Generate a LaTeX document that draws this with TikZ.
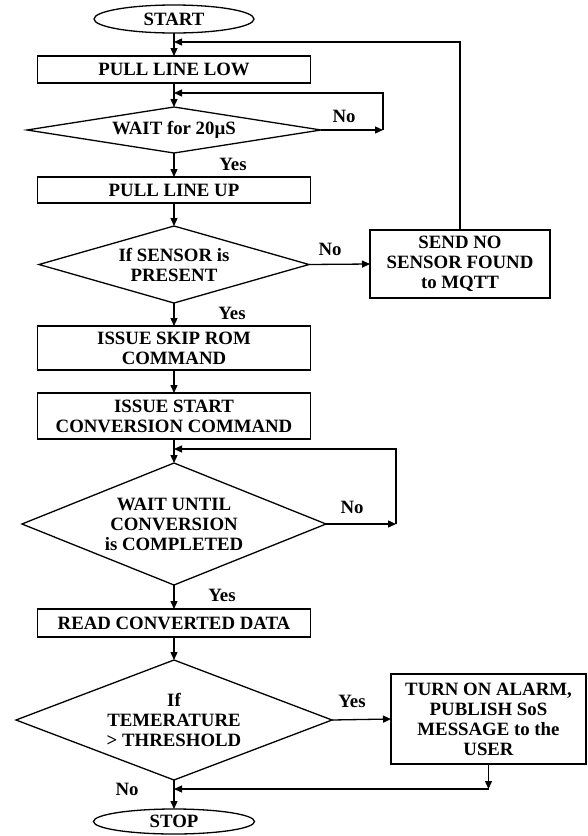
\documentclass[tikz,border=0pt]{standalone}
\usepackage{fontspec}
\setmainfont{Liberation Serif}
\usetikzlibrary{shapes.geometric,arrows.meta}

\begin{document}
\begin{tikzpicture}[x=1pt, y=-1pt,
  every node/.style={font=\fontsize{18.8}{20}\selectfont\bfseries},
  base/.style={draw, line width=1.3pt, inner sep=0pt, outer sep=0pt, align=center},
  terminal/.style={base, ellipse},
  process/.style={base, rectangle},
  decision/.style={base, diamond},
  flow/.style={line width=1.3pt, -{Triangle[length=8pt,width=7pt]}},
  tag/.style={inner sep=0pt}
]
\useasboundingbox (0,0) rectangle (587,836);

% main column
\node[terminal, minimum width=160pt, minimum height=28pt] (start) at (174,19) {START};
\node[process, minimum width=273pt, minimum height=27pt] (low) at (174,69.5) {PULL LINE LOW};
\node[decision, aspect=6.4, minimum width=294pt, minimum height=46pt] (wait) at (174,130) {WAIT for 20µS};
\node[process, minimum width=273pt, minimum height=26pt] (up) at (174,190) {PULL LINE UP};
\node[decision, aspect=3.5, minimum width=270pt, minimum height=77pt] (sensor) at (174,264.5) {If SENSOR is\\PRESENT};
\node[process, minimum width=273pt, minimum height=44pt] (skip) at (174,348) {ISSUE SKIP ROM\\COMMAND};
\node[process, minimum width=273pt, minimum height=46pt] (conv) at (174,416) {ISSUE START\\CONVERSION COMMAND};
\node[decision, aspect=2.49, minimum width=304pt, minimum height=122pt] (until) at (174,524) {WAIT UNTIL\\CONVERSION\\is COMPLETED};
\node[process, minimum width=273pt, minimum height=28pt] (read) at (174,623) {READ CONVERTED DATA};
\node[decision, aspect=2.63, minimum width=316pt, minimum height=120pt] (temp) at (174,720) {If\\TEMERATURE\\> THRESHOLD};
\node[terminal, minimum width=161pt, minimum height=25pt] (stop) at (174,821.5) {STOP};

% side boxes
\node[process, minimum width=180pt, minimum height=68pt] (nosensor) at (460,264) {SEND NO\\SENSOR FOUND\\to MQTT};
\node[process, minimum width=195pt, minimum height=90pt] (alarm) at (488.5,719) {TURN ON ALARM,\\PUBLISH SoS\\MESSAGE to the\\USER};

% junctions and corners
\coordinate (jtop) at (174,42);
\coordinate (jwait) at (174,93);
\coordinate (cwait) at (383,130);
\coordinate (juntil) at (174,449);
\coordinate (cuntil) at (396,524);
\coordinate (calarm) at (488.5,789);
\coordinate (jstop) at (174,789);

% connectors
\draw[flow] (start) -- (low);
\draw[flow] (nosensor.north) |- (jtop);
\draw[flow] (low) -- (wait);
\draw[flow] (wait.east) -- (cwait);
\draw[flow] (cwait) |- (jwait);
\draw[flow] (wait) -- (up);
\draw[flow] (up) -- (sensor);
\draw[flow] (sensor.east) -- (nosensor.west);
\draw[flow] (sensor) -- (skip);
\draw[flow] (skip) -- (conv);
\draw[flow] (conv) -- (until);
\draw[flow] (until.east) -- (cuntil);
\draw[flow] (cuntil) |- (juntil);
\draw[flow] (until) -- (read);
\draw[flow] (read) -- (temp);
\draw[flow] (temp.east) -- (alarm.west);
\draw[flow] (temp) -- (stop);
\draw[flow] (alarm.south) -- (calarm);
\draw[flow] (calarm) -- (jstop);

% branch labels
\node[tag] (no1) at (344,116) {No};
\node[tag] (yes1) at (233,164) {Yes};
\node[tag] (no2) at (330,249) {No};
\node[tag] (yes2) at (232,313) {Yes};
\node[tag] (no3) at (352,507) {No};
\node[tag] (yes3) at (222,595) {Yes};
\node[tag] (yes4) at (352,701) {Yes};
\node[tag] (no4) at (127,789) {No};
\end{tikzpicture}
\end{document}
